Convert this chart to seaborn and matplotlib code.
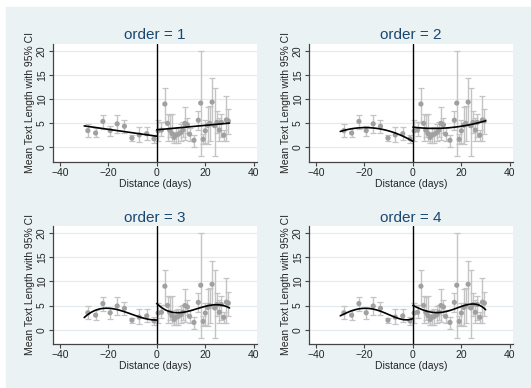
import numpy as np
import pandas as pd
import matplotlib
matplotlib.use("Agg")
import matplotlib.pyplot as plt
import seaborn as sns

# bin means left of the cutoff
left_days = [-28.5, -25.3, -22.3, -19.3, -16.4, -13.4, -10.3, -7.3, -4.2, -1.2]
left_mean = [3.5, 3.0, 5.4, 3.5, 4.9, 4.4, 1.95, 2.6, 2.85, 1.8]
left_lo = [2.2, 2.1, 3.8, 2.3, 3.0, 3.1, 1.4, 1.2, 1.5, 1.0]
left_hi = [4.9, 4.0, 6.8, 4.4, 6.8, 5.7, 2.5, 4.2, 4.2, 2.6]

# bin means right of the cutoff
right_days = [0.5, 1.9, 3.3, 4.4, 5.3, 6.2, 7.1, 7.9, 8.9, 9.9, 10.7, 11.6, 12.6,
              13.5, 15.3, 17.1, 18.1, 19.1, 20.0, 21.0, 21.8, 22.8, 23.9, 24.8,
              25.8, 26.6, 27.6, 28.7, 29.5]
right_mean = [3.45, 3.6, 9.0, 5.0, 3.6, 2.9, 2.1, 2.55, 2.75, 3.1, 3.6, 5.0, 4.7,
              2.75, 1.5, 5.65, 9.2, 1.7, 3.45, 4.6, 5.0, 9.4, 4.5, 5.2,
              3.6, 5.2, 2.55, 5.7, 5.5]
right_lo = [1.4, 2.4, 5.2, 1.4, 2.1, 1.4, 1.0, 1.0, 1.0, 1.4, 2.1, 1.5, 3.1,
            1.4, 0.1, 3.6, -1.7, 0.7, 1.0, 0.7, 1.4, 4.5, -1.7, 2.9,
            1.4, 2.1, 1.4, 1.4, 2.8]
right_hi = [5.6, 5.2, 12.4, 7.0, 6.8, 7.0, 3.3, 4.0, 4.3, 4.8, 5.2, 8.4, 6.1,
            4.0, 2.6, 7.6, 20.0, 2.8, 5.6, 8.4, 8.6, 14.3, 12.4, 7.5,
            6.2, 6.9, 3.6, 10.7, 7.9]

orders = [1, 2, 3, 4]

df = pd.DataFrame({
    "day": left_days + right_days,
    "mean": left_mean + right_mean,
    "lo": left_lo + right_lo,
    "hi": left_hi + right_hi,
})
df["side"] = np.where(df["day"] < 0, "left", "right")

bg = "#eaf2f3"
sns.set_theme(style="white")
plt.rcParams["font.family"] = ["Liberation Sans", "DejaVu Sans"]

fig = plt.figure(figsize=(5.31, 3.88), dpi=100, facecolor="white")
# Stata-like outer background with thin white margin top/left
fig.patches.append(plt.Rectangle((6 / 531, 0), 1, 1 - 7 / 388,
                                 transform=fig.transFigure, color=bg, zorder=-1))

positions = [(0.0998, 0.5825), (0.582, 0.5825), (0.0998, 0.113), (0.582, 0.113)]

for order, (lx, by) in zip(orders, positions):
    ax = fig.add_axes([lx, by, 0.384, 0.305])
    ax.set_facecolor("white")
    for y in [0, 5, 10, 15, 20]:
        ax.axhline(y, color="#e3ebee", lw=0.9, zorder=0)

    ax.errorbar(df["day"], df["mean"],
                yerr=[df["mean"] - df["lo"], df["hi"] - df["mean"]],
                fmt="none", ecolor="#c4c4c4", elinewidth=1.0, capsize=2.5,
                capthick=0.9, zorder=2)
    sns.scatterplot(data=df, x="day", y="mean", color="#a0a0a0", s=14,
                    edgecolor="none", ax=ax, zorder=3, legend=False)

    # polynomial fit per side of the cutoff
    for side, (a, b) in [("left", (-30, 0)), ("right", (0, 30))]:
        sub = df[df["side"] == side]
        coef = np.polyfit(sub["day"], sub["mean"], order)
        xs = np.linspace(a, b, 120)
        ax.plot(xs, np.polyval(coef, xs), color="black", lw=1.2, zorder=4)

    ax.axvline(0, color="black", lw=1.0, zorder=5)

    ax.set_xlim(-42.9, 41.3)
    ax.set_ylim(-3.0, 21.5)
    ax.set_xticks([-40, -20, 0, 20, 40])
    ax.set_yticks([0, 5, 10, 15, 20])
    ax.set_yticklabels(["0", "5", "10", "15", "20"], rotation=90, va="center")
    ax.tick_params(axis="both", labelsize=7.5, length=3, width=0.8,
                   color="#444444", pad=1.5, direction="out")
    ax.tick_params(left=True, bottom=True)
    for s in ["top", "right"]:
        ax.spines[s].set_visible(False)
    for s in ["left", "bottom"]:
        ax.spines[s].set_color("#444444")
        ax.spines[s].set_linewidth(0.9)
    ax.set_xlabel("Distance (days)", fontsize=7.5, labelpad=0.5)
    ax.set_ylabel("Mean Text Length with 95% CI", fontsize=7.5, labelpad=1)
    ax.set_title(f"order = {order}", fontsize=11, color="#1a476f", pad=3)

fig.savefig("out.png", dpi=100, facecolor="white")
